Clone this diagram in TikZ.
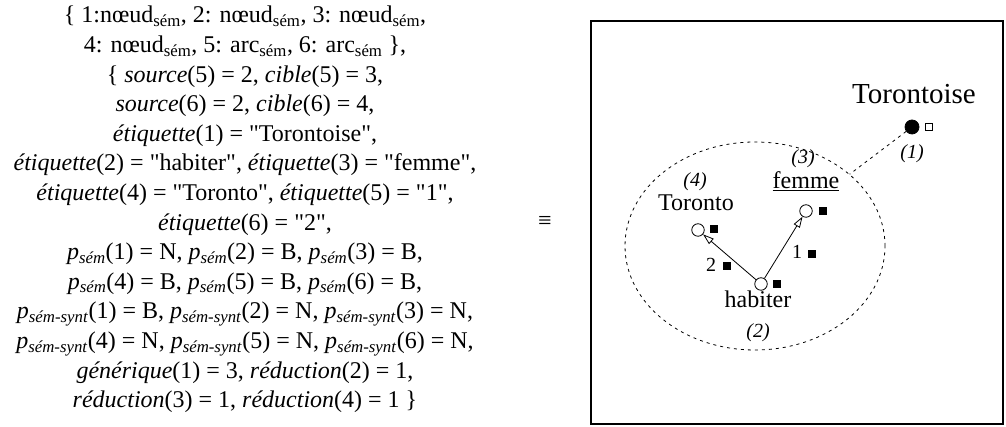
\documentclass[tikz,border=0pt]{standalone}
\usepackage{fontspec}
\setmainfont{Liberation Serif}[Ligatures=TeXOff]
\usetikzlibrary{arrows.meta,shapes.geometric}
\newcommand{\psem}{\textit{p}\textsubscript{\textit{sém}}}
\newcommand{\psemsynt}{\textit{p}\textsubscript{\textit{sém-synt}}}
\newcommand{\sem}{\textsubscript{sém}}
\begin{document}
\begin{tikzpicture}[x=1pt, y=1pt,
  noeud/.style={circle, draw, fill=white, inner sep=0pt, minimum size=12.5pt, line width=0.8pt},
  marque/.style={rectangle, fill=black, inner sep=0pt, minimum size=8pt},
  etiq/.style={font=\fontsize{24}{28}\selectfont, inner sep=0pt, anchor=base},
  numero/.style={font=\fontsize{20}{24}\selectfont\itshape, inner sep=0pt, anchor=base},
  rang/.style={font=\fontsize{20}{24}\selectfont, inner sep=0pt, anchor=base},
  pointille/.style={line width=0.8pt, dash pattern=on 3pt off 4pt},
  fleche/.style={line width=0.8pt, -{Triangle[open, length=11pt, width=7pt]}}]
  \useasboundingbox (0,0) rectangle (1006,427);
  % Textual specification
  \node[anchor=north, inner sep=0pt, align=center,
        font=\fontsize{24}{29.6}\selectfont] (spec) at (245,421) {%
    \{ 1:nœud\sem, 2: nœud\sem, 3: nœud\sem,\\
    4: nœud\sem, 5: arc\sem, 6: arc\sem\ \},\\
    \{ \textit{source}(5) = 2, \textit{cible}(5) = 3,\\
    \textit{source}(6) = 2, \textit{cible}(6) = 4,\\
    \textit{étiquette}(1) = "Torontoise",\\
    \textit{étiquette}(2) = "habiter", \textit{étiquette}(3) = "femme",\\
    \textit{étiquette}(4) = "Toronto", \textit{étiquette}(5) = "1",\\
    \textit{étiquette}(6) = "2",\\
    \psem(1) = N, \psem(2) = B, \psem(3) = B,\\
    \psem(4) = B, \psem(5) = B, \psem(6) = B,\\
    \psemsynt(1) = B, \psemsynt(2) = N, \psemsynt(3) = N,\\
    \psemsynt(4) = N, \psemsynt(5) = N, \psemsynt(6) = N,\\
    \textit{générique}(1) = 3, \textit{réduction}(2) = 1,\\
    \textit{réduction}(3) = 1, \textit{réduction}(4) = 1 \}};
  % Equivalence sign
  \node[font=\fontsize{24}{28}\selectfont, inner sep=0pt] (equiv) at (545,205) {≡};
  % Frame
  \draw[line width=1.6pt] (591,406) rectangle (1003,3);
  % Semantic zone
  \node[ellipse, draw, pointille, minimum width=260pt, minimum height=208pt] (zone) at (755,181) {};
  % Nodes
  \node[noeud] (n2) at (761,143) {};
  \node[noeud] (n4) at (698,197) {};
  \node[noeud] (n3) at (806,216) {};
  \node[noeud, fill=black, minimum size=14pt] (n1) at (912,300) {};
  \node[marque] (m2) at (777,143) {};
  \node[marque] (m4) at (714,198) {};
  \node[marque] (m3) at (823,216) {};
  \node[marque, fill=white, draw, line width=0.7pt, minimum size=7pt] (m1) at (929,300) {};
  % Arcs
  \draw[fleche] (n2) -- (n4);
  \draw[fleche] (n2) -- (n3);
  \draw[pointille] (n1) -- (zone);
  % Arc labels
  \node[rang] (r6) at (711,155) {2};
  \node[marque] (m6) at (727,161) {};
  \node[rang] (r5) at (797,168) {1};
  \node[marque] (m5) at (812,173) {};
  % Node labels
  \node[etiq] (l4) at (696,216) {Toronto};
  \node[numero] (i4) at (695,240) {(4)};
  \node[etiq] (l3) at (806,238) {\underline{femme}};
  \node[numero] (i3) at (803,263) {(3)};
  \node[etiq] (l2) at (758,119) {habiter};
  \node[numero] (i2) at (758,89) {(2)};
  \node[etiq, font=\fontsize{29}{34}\selectfont] (l1) at (914,323) {Torontoise};
  \node[numero] (i1) at (912,268) {(1)};
\end{tikzpicture}
\end{document}
